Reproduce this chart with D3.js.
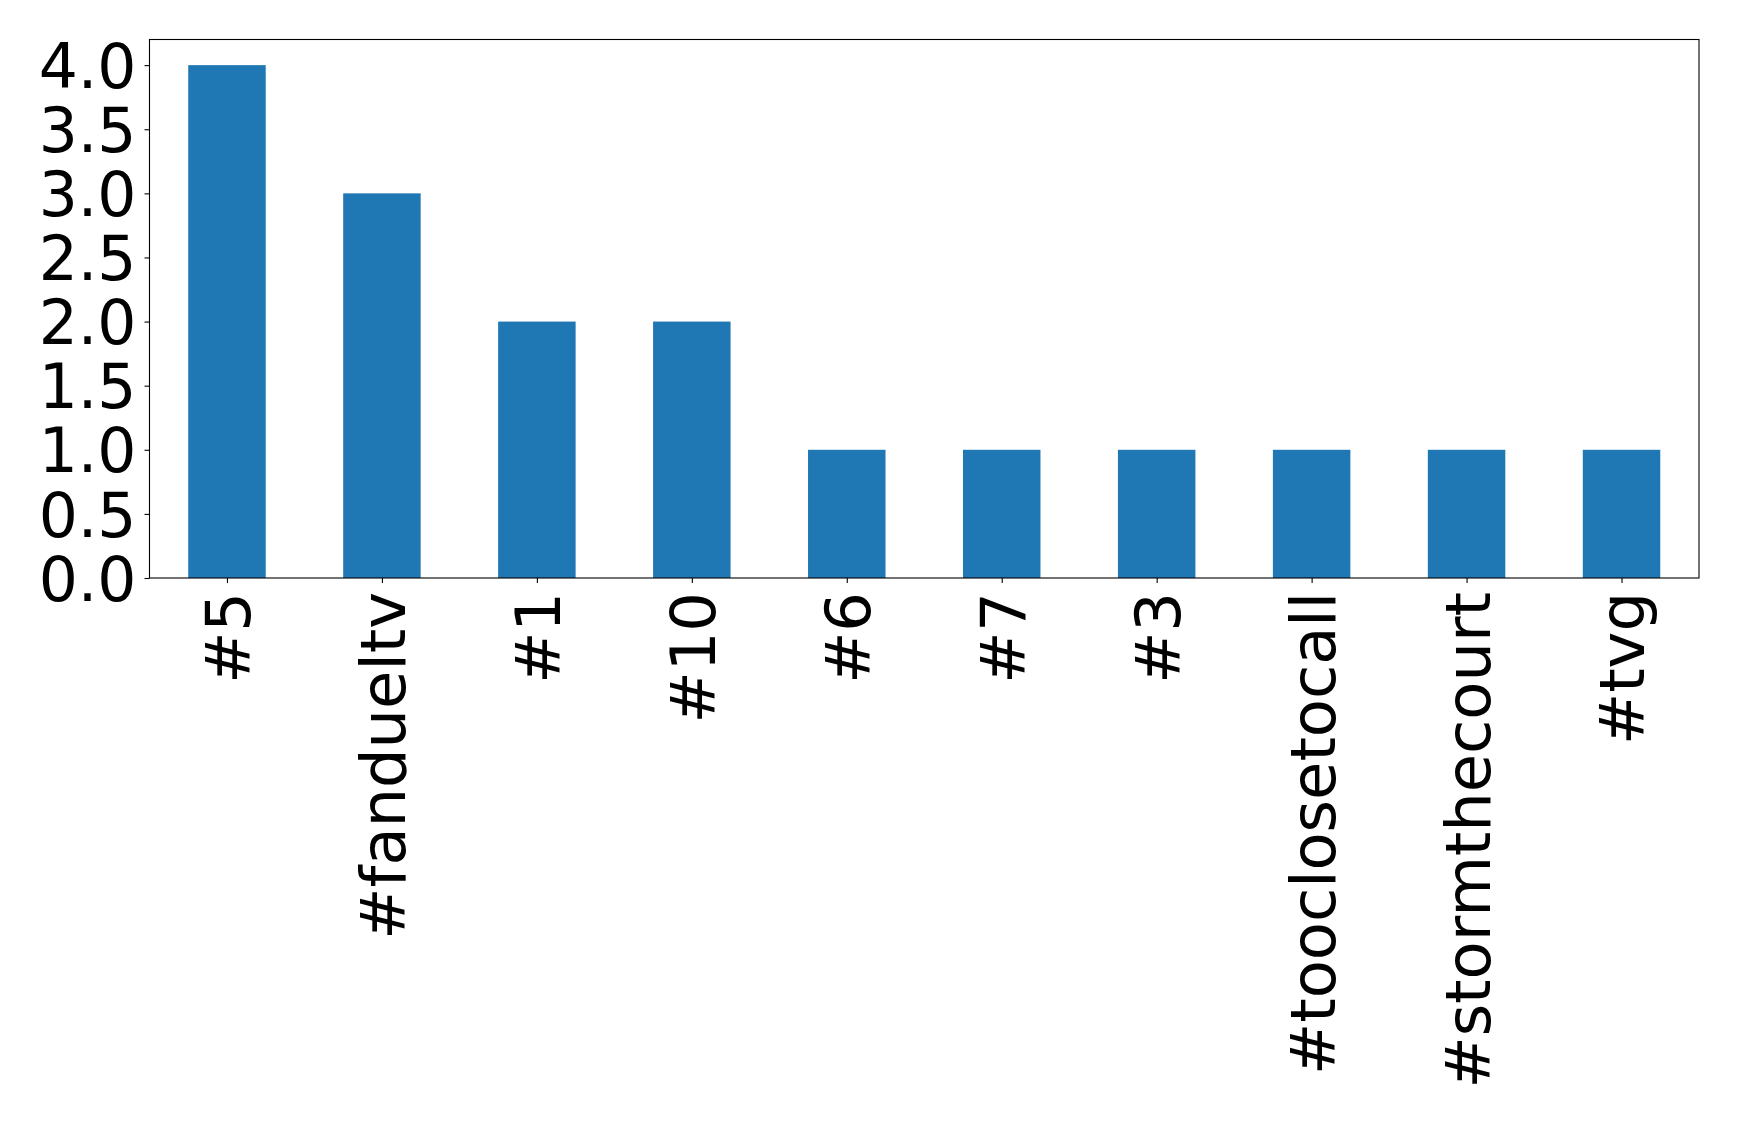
<!DOCTYPE html>
<html><head><meta charset="utf-8">
<script src="https://cdn.jsdelivr.net/npm/d3@7"></script>
<style>body{margin:0;background:#fff}svg{display:block}</style>
</head><body>
<script>
const categories = ["#5","#fandueltv","#1","#10","#6","#7","#3","#tooclosetocall","#stormthecourt","#tvg"];
const values = [4,3,2,2,1,1,1,1,1,1];
const yTicks = [0,0.5,1,1.5,2,2.5,3,3.5,4];

const W = 1739, H = 1126;
const m = {left:149.5, right:1699, top:39.5, bottom:578};
const svg = d3.select("body").append("svg").attr("width",W).attr("height",H);
const x = d3.scaleLinear().domain([-0.5, categories.length-0.5]).range([m.left, m.right]);
const y = d3.scaleLinear().domain([0, 4.2]).range([m.bottom, m.top]);
const font = "DejaVu Sans";

svg.append("g").selectAll("rect").data(values).join("rect")
  .attr("x",(d,i)=>x(i-0.25)).attr("width",(d,i)=>x(i+0.25)-x(i-0.25))
  .attr("y",d=>y(d)).attr("height",d=>y(0)-y(d)).attr("fill","#1f77b4");

// y axis
const ya = svg.append("g").attr("transform",`translate(${m.left},0)`)
  .call(d3.axisLeft(y).tickValues(yTicks).tickFormat(d3.format(".1f")).tickSize(5).tickPadding(8));
ya.select(".domain").remove();
ya.selectAll("text").attr("font-family",font).attr("font-size",61.5).attr("fill","#000").attr("dy","0.36em");
ya.selectAll("line").attr("stroke","#000").attr("stroke-width",1.1);

// x axis
const xa = svg.append("g").attr("transform",`translate(0,${m.bottom})`)
  .call(d3.axisBottom(x).tickValues(d3.range(categories.length)).tickFormat(i=>categories[i]).tickSize(5).tickPadding(0));
xa.select(".domain").remove();
xa.selectAll("line").attr("stroke","#000").attr("stroke-width",1.1);
xa.selectAll("text").attr("font-family",font).attr("font-size",62.3).attr("fill","#000")
  .attr("text-anchor","end").attr("transform","translate(0,14) rotate(-90)").attr("x",0).attr("y",0).attr("dy","0.36em");

// frame
svg.append("rect").attr("x",m.left).attr("y",m.top).attr("width",m.right-m.left).attr("height",m.bottom-m.top)
  .attr("fill","none").attr("stroke","#000").attr("stroke-width",1.1);
</script>
</body></html>
